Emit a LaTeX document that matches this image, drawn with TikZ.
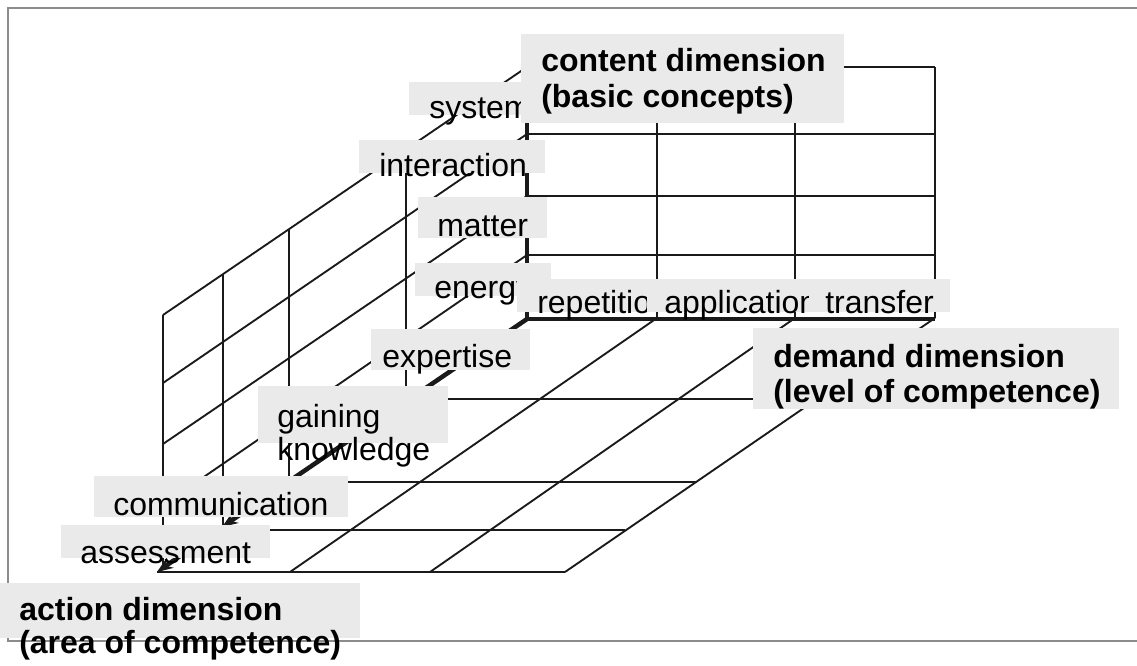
\documentclass[tikz,border=0pt]{standalone}
\usepackage{fontspec}
\setmainfont{Liberation Sans}
\usetikzlibrary{arrows.meta}
\definecolor{lblgray}{HTML}{EAEAEA}
\definecolor{framegray}{HTML}{8C8C8C}
\definecolor{ink}{HTML}{1A1A1A}
\newcommand\twolines[3]{\vtop{\baselineskip=#1\lineskiplimit=-1000pt\hbox{#2}\hbox{#3}}}
\begin{document}
\begin{tikzpicture}[x=0.75pt,y=-0.75pt,
  gridline/.style={draw=ink,line width=1.4pt},
  axisline/.style={draw=ink,line width=3.4pt},
  frameline/.style={draw=framegray,line width=2pt},
  lblbox/.style={fill=lblgray,draw=none},
  lbl/.style={anchor=base west,inner sep=0pt,font=\fontsize{24}{27}\selectfont},
  blbl/.style={anchor=base west,inner sep=0pt,font=\fontsize{24}{27}\selectfont\bfseries}]
\useasboundingbox (0,0) rectangle (1137,666);
\fill[white] (0,0) rectangle (1137,666);
% frame
\draw[frameline] (1137,8) -- (8,8) -- (8,641) -- (1137,641);

% back wall (content x demand)
\foreach \x in {657,795,935} \draw[gridline] (\x,67) -- (\x,318);
\foreach \y in {67,134,196,255} \draw[gridline] (527,\y) -- (935,\y);

% left wall (content x action)
\draw[gridline] (163,315) -- (527,67);
\draw[gridline] (163,383) -- (527,134);
\draw[gridline] (163,444) -- (527,196);
\draw[gridline] (163,505) -- (527,255);
\draw[gridline] (163,315) -- (163,568);
\draw[gridline] (223,274) -- (223,527);
\draw[gridline] (289,230) -- (289,481);
\draw[gridline] (406,149) -- (406,401);

% floor (action x demand)
\draw[gridline] (157,572) -- (565,572);
\draw[gridline] (218,530) -- (625,530);
\draw[gridline] (288,482) -- (697,482);
\draw[gridline] (409,399) -- (817,399);
\draw[gridline] (290,572) -- (657,318);
\draw[gridline] (430,572) -- (795,318);
\draw[gridline] (565,572) -- (935,318);

% axes
\coordinate (corner) at (527,319);
\coordinate (mid) at (222,527);
\coordinate (front) at (157,572);
\draw[axisline] (527,67) -- (corner);
\draw[axisline] (corner) -- (935,319);
\draw[axisline,-{Stealth[length=12pt,width=9pt]}] (corner) -- (mid);
\draw[axisline,-{Stealth[length=12pt,width=9pt]}] (mid) -- (front);

% content labels
\fill[lblbox] (409,82) rectangle (530,115);
\node[lbl] (system) at (429,119) {system};
\fill[lblbox] (359,140) rectangle (545,173);
\node[lbl] (interaction) at (379,177) {interaction};
\fill[lblbox] (418,197) rectangle (547,238);
\node[lbl] (matter) at (437,237) {matter};
\fill[lblbox] (415,263) rectangle (551,296);
\node[lbl] (energy) at (434,299) {energy};

% demand levels
\fill[lblbox] (517,279) rectangle (950,312);
\begin{scope}
  \clip (517,270) rectangle (646,330);
  \node[lbl] (repetition) at (537,313) {repetition};
\end{scope}
\begin{scope}
  \clip (660,270) rectangle (808,330);
  \node[lbl] (application) at (664,313) {application};
\end{scope}
\node[lbl] (transfer) at (825,313) {transfer};

% content dimension title
\fill[lblbox] (521,34) rectangle (844,123);
\node[blbl] (contentdim) at (541,72) {\twolines{27pt}{content dimension}{(basic concepts)}};

% action labels
\fill[lblbox] (371,329) rectangle (530,370);
\node[lbl] (expertise) at (382,367) {expertise};
\fill[lblbox] (258,386) rectangle (448,443);
\node[lbl] (gaining) at (277,427) {\twolines{24.75pt}{gaining}{knowledge}};
\fill[lblbox] (94,476) rectangle (348,517);
\node[lbl] (communication) at (113,515) {communication};
\fill[lblbox] (61,525) rectangle (270,558);
\node[lbl] (assessment) at (80,563) {assessment};

% demand dimension title
\fill[lblbox] (753,328) rectangle (1119,409);
\node[blbl] (demanddim) at (773,367) {\twolines{26.25pt}{demand dimension}{(level of competence)}};

% action dimension title
\fill[lblbox] (0,583) rectangle (360,638);
\node[blbl] (actiondim) at (19,620) {\twolines{24.75pt}{action dimension}{(area of competence)}};
\end{tikzpicture}
\end{document}
